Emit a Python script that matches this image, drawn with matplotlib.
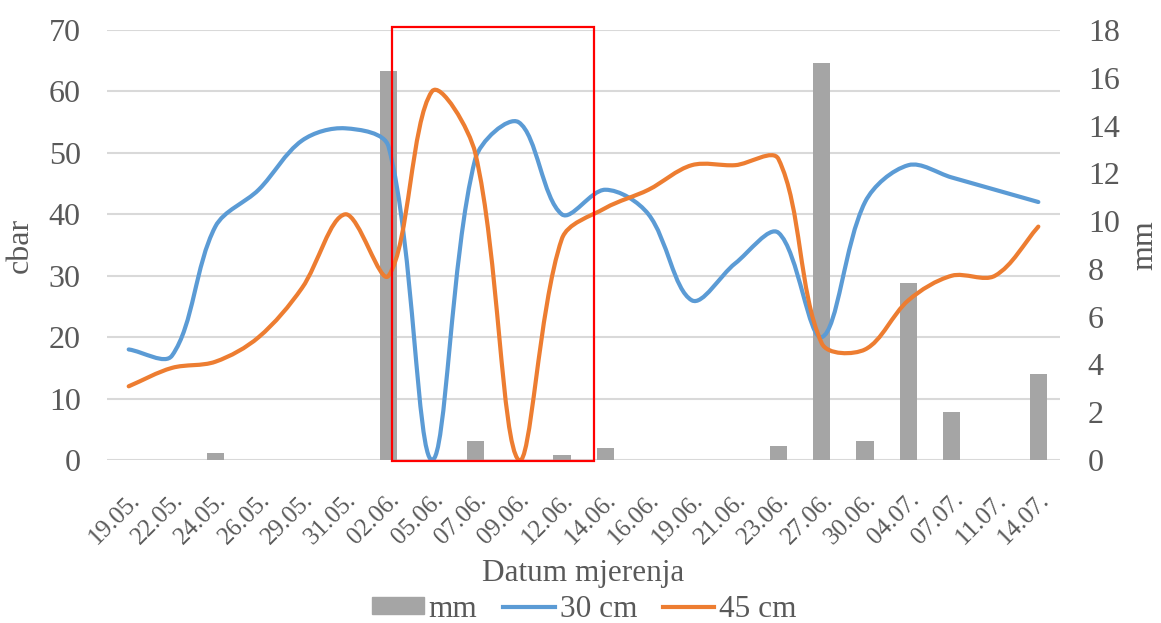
import numpy as np
import matplotlib
matplotlib.use("Agg")
import matplotlib.pyplot as plt
from matplotlib.path import Path
from matplotlib.patches import PathPatch, Rectangle, Patch
from matplotlib.lines import Line2D
from matplotlib.transforms import blended_transform_factory

plt.rcParams['font.family'] = ['Liberation Serif', 'DejaVu Serif']

dates = ["19.05.", "22.05.", "24.05.", "26.05.", "29.05.", "31.05.", "02.06.", "05.06.",
         "07.06.", "09.06.", "12.06.", "14.06.", "16.06.", "19.06.", "21.06.", "23.06.",
         "27.06.", "30.06.", "04.07.", "07.07.", "11.07.", "14.07."]
mm = [0, 0, 0.3, 0, 0, 0, 16.3, 0, 0.8, 0, 0.2, 0.5, 0, 0, 0, 0.6,
      16.6, 0.8, 7.4, 2.0, 0, 3.6]
cm30 = [18, 17, 38, 44, 52, 54, 51, 0, 49, 55, 40, 44, 40, 26, 32, 37,
        20, 42, 48, 46, 44, 42]
cm45 = [12, 15, 16, 20, 28, 40, 30, 60, 50, 0, 36, 41, 44, 48, 48, 49,
        19, 18, 26, 30, 30, 38]

blue = '#5b9bd5'
orange = '#ed7d31'
gray = '#a5a5a5'
txt = '#595959'


def smooth_path(xs, ys, sx, sy):
    # excel-like smoothed line, control arms scaled by screen distances
    p = np.column_stack([xs, ys]).astype(float)
    n = len(p)

    def dist(a, b):
        return np.hypot((a[0] - b[0]) * sx, (a[1] - b[1]) * sy)

    verts = [p[0]]
    codes = [Path.MOVETO]
    for i in range(n - 1):
        p0 = p[max(i - 1, 0)]
        p1 = p[i]
        p2 = p[i + 1]
        p3 = p[min(i + 2, n - 1)]
        d01, d12, d23 = dist(p0, p1), dist(p1, p2), dist(p2, p3)
        f1 = d12 / (d01 + d12) / 3 if d01 + d12 > 0 else 0
        f2 = d12 / (d12 + d23) / 3 if d12 + d23 > 0 else 0
        if i == 0:
            c1 = p1 + (p2 - p1) / 3
        else:
            c1 = p1 + (p2 - p0) * f1
        if i == n - 2:
            c2 = p2 - (p2 - p1) / 3
        else:
            c2 = p2 - (p3 - p1) * f2
        verts += [c1, c2, p2]
        codes += [Path.CURVE4] * 3
    return Path(verts, codes)


fig = plt.figure(figsize=(11.61, 6.23), dpi=100)
ax = fig.add_axes([0.0922, 0.2616, 0.8208, 0.6902])
ax2 = ax.twinx()
ax.set_zorder(ax2.get_zorder() + 1)
ax.patch.set_visible(False)

x = np.arange(len(dates))

ax.set_xlim(-0.5, len(dates) - 0.5)
ax.set_ylim(0, 70)
ax2.set_ylim(0, 18)
ax.set_yticks(range(0, 71, 10))
ax2.set_yticks(range(0, 19, 2))

# grid behind the bars
tr = blended_transform_factory(ax2.transAxes, ax.transData)
for t in ax.get_yticks():
    ax2.plot([0, 1], [t, t], color='#d9d9d9', lw=1.5, transform=tr, zorder=0)

ax2.bar(x, mm, width=0.4, color=gray, zorder=2)

bb = ax.get_window_extent()
sx = bb.width / len(dates)
sy = bb.height / 70
for ys, c in [(cm30, blue), (cm45, orange)]:
    ax.add_patch(PathPatch(smooth_path(x, ys, sx, sy), fill=False, edgecolor=c, lw=3,
                           capstyle='round', joinstyle='round'))

# red frame
ax.add_patch(Rectangle((6.07, -0.1), 4.68, 70.6, fill=False, edgecolor='red',
                       lw=1.6, clip_on=False, zorder=5))

for a in (ax, ax2):
    for s in a.spines.values():
        s.set_visible(False)
    a.tick_params(length=0, colors=txt)

ax.set_xticks(x)
ax.set_xticklabels(dates, rotation=45, ha='right', rotation_mode='anchor', fontsize=18)
ax.tick_params(axis='x', pad=21)
ax.tick_params(axis='y', labelsize=23, pad=19)
ax2.tick_params(axis='y', labelsize=23, pad=20)

ax.set_ylabel("cbar", fontsize=23, color=txt, labelpad=10)
ax2.set_ylabel("mm", fontsize=23, color=txt, labelpad=8)
ax.set_xlabel("Datum mjerenja", fontsize=22.5, color=txt, labelpad=7)

handles = [Patch(color=gray), Line2D([], [], color=blue, lw=3), Line2D([], [], color=orange, lw=3)]
fig.legend(handles, ["mm", "30 cm", "45 cm"], loc='center', bbox_to_anchor=(0.5034, 0.022),
           ncol=3, frameon=False, fontsize=22.5, handlelength=1.65, handleheight=0.47,
           handletextpad=0.16, columnspacing=0.82, labelcolor=txt, borderpad=0)

fig.savefig("out.png", dpi=100)
